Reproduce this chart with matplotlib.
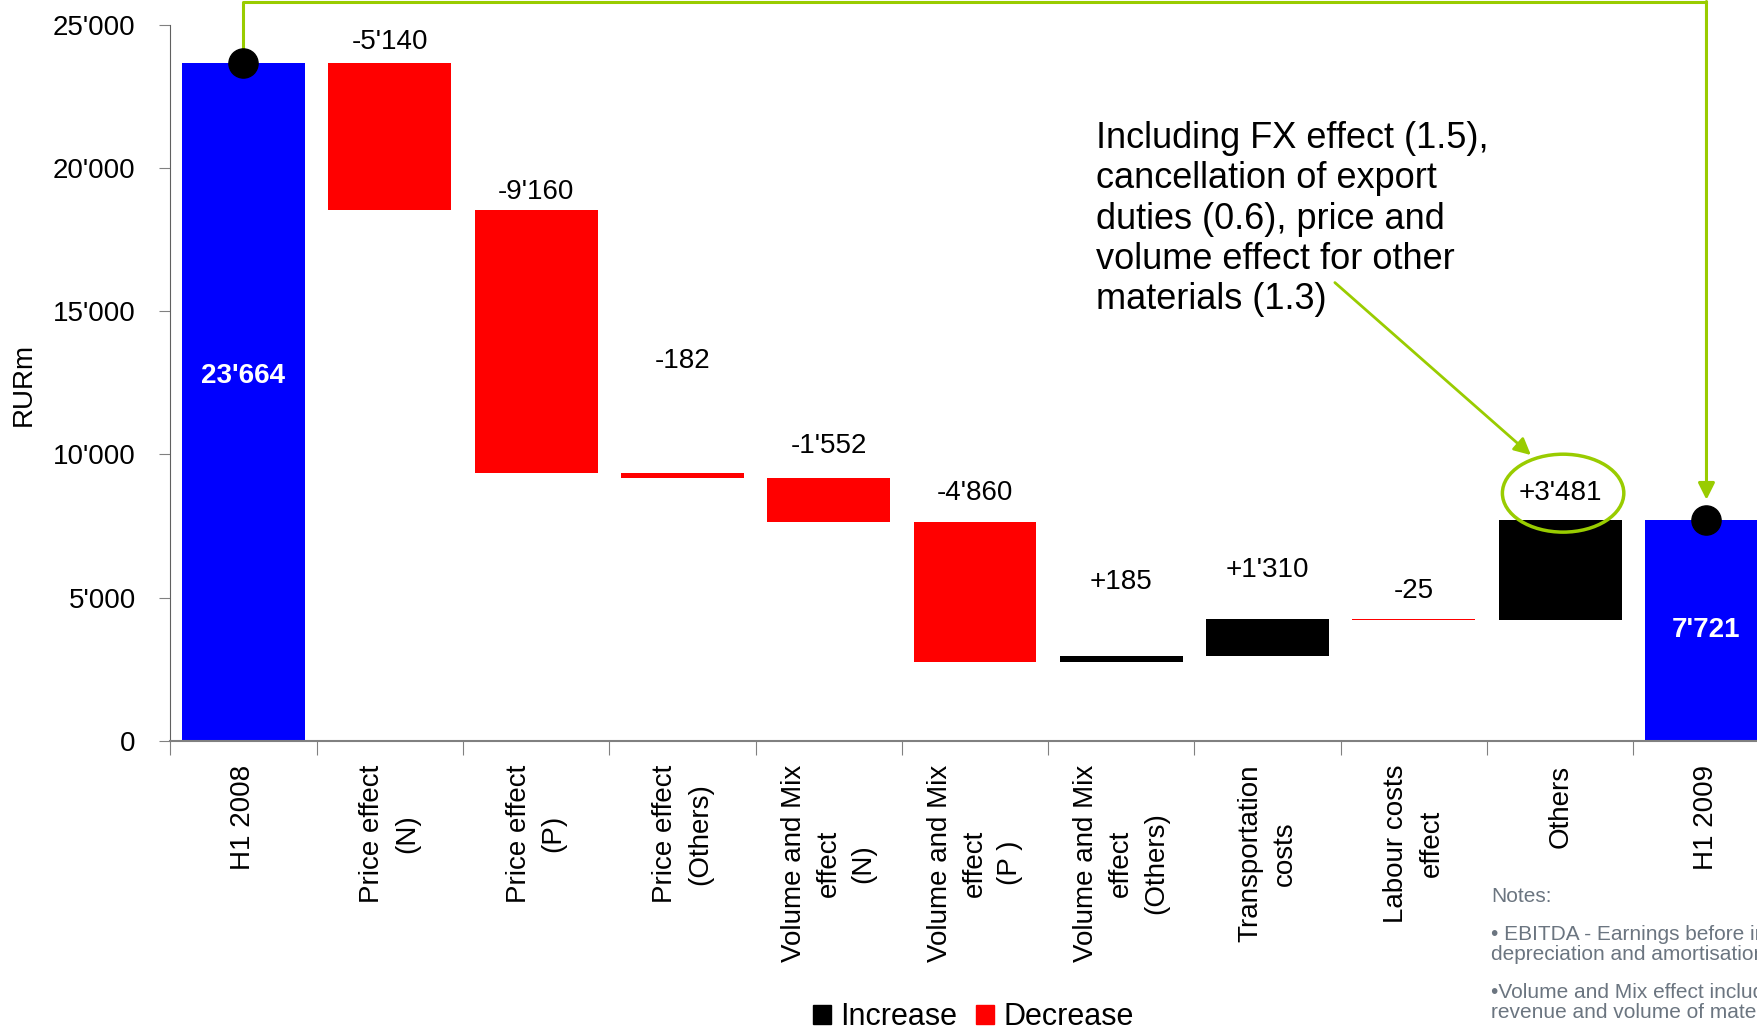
import numpy as np
import matplotlib.pyplot as plt
from matplotlib.patches import Ellipse, Patch
from matplotlib.ticker import FuncFormatter

plt.rcParams['font.family'] = ['Liberation Sans', 'DejaVu Sans']

# EBITDA bridge H1 2008 -> H1 2009, RURm
categories = ["H1 2008", "Price effect\n(N)", "Price effect\n(P)", "Price effect\n(Others)",
              "Volume and Mix\neffect\n(N)", "Volume and Mix\neffect\n(P )",
              "Volume and Mix\neffect\n(Others)", "Transportation\ncosts",
              "Labour costs\neffect", "Others", "H1 2009"]
start_value = 23664
changes = [-5140, -9160, -182, -1552, -4860, 185, 1310, -25, 3481]
end_value = 7721
value_labels = ["23'664", "-5'140", "-9'160", "-182", "-1'552", "-4'860",
                "+185", "+1'310", "-25", "+3'481", "7'721"]
# where the number labels sit (data units)
label_y = [12750, 24400, 19170, 13260, 10290, 8640, 5550, 5980, 5240, 8640, 3870]

note_lines = ["• EBITDA - Earnings before interest, taxes,",
              "depreciation and amortisation",
              "•Volume and Mix effect includes changes in",
              "revenue and volume of materials sold"]
callout = ("Including FX effect (1.5),\ncancellation of export\nduties (0.6), price and\n"
           "volume effect for other\nmaterials (1.3)")

BLUE, RED, BLACK = "#0000FF", "#FF0000", "#000000"
GREEN = "#99CC00"

# waterfall geometry
bottoms, heights, colors = [0], [start_value], [BLUE]
running = start_value
for c in changes:
    if c < 0:
        bottoms.append(running + c)
        heights.append(-c)
        colors.append(RED)
    else:
        bottoms.append(running)
        heights.append(c)
        colors.append(BLACK)
    running += c
bottoms.append(0)
heights.append(end_value)
colors.append(BLUE)

x = np.arange(len(categories))

fig = plt.figure(figsize=(17.58, 10.31), dpi=100)
ax = fig.add_axes([0.0969, 0.2813, 0.9154, 0.6947])

ax.bar(x, heights, bottom=bottoms, width=0.84, color=colors, zorder=2)

ax.set_xlim(-0.5, 10.5)
ax.set_ylim(0, 25000)
ax.set_yticks(np.arange(0, 25001, 5000))
ax.yaxis.set_major_formatter(FuncFormatter(lambda v, p: f"{int(v):,}".replace(",", "'")))

ax.set_xticks(np.arange(-0.5, 10.5, 1))
ax.set_xticklabels([])
ax.set_xticks(x, minor=True)
ax.set_xticklabels(categories, minor=True, rotation=90, fontsize=20,
                   ha="center", va="top", multialignment="center", linespacing=1.45)
ax.tick_params(axis="x", which="major", length=10, color="#808080", direction="out")
ax.tick_params(axis="x", which="minor", length=0, pad=17)
ax.tick_params(axis="y", length=8, color="#808080", labelsize=20, pad=17)

for s in ["top", "right"]:
    ax.spines[s].set_visible(False)
ax.spines["left"].set_color("#606060")
ax.spines["bottom"].set_color("#808080")
ax.spines["bottom"].set_linewidth(1.5)

for i, (lab, ly) in enumerate(zip(value_labels, label_y)):
    if i in (0, len(categories) - 1):
        ax.text(x[i], ly, lab, ha="center", va="center", fontsize=20,
                fontweight="bold", color="white", zorder=3)
    else:
        ax.text(x[i], ly, lab, ha="center", va="center", fontsize=20, zorder=3)

# green connector from H1 2008 to H1 2009
y_top = 25810
ax.plot([x[0], x[0], x[-1]], [start_value, y_top, y_top], color=GREEN, lw=2.2,
        clip_on=False, zorder=4)
ax.annotate("", xy=(x[-1], 8420), xytext=(x[-1], y_top),
            arrowprops=dict(arrowstyle="-|>", color=GREEN, lw=2.2,
                            mutation_scale=25, shrinkA=0, shrinkB=0),
            annotation_clip=False, zorder=4)
ax.plot([x[0], x[-1]], [start_value, end_value], "o", color="black", ms=21,
        clip_on=False, zorder=5)

# callout
ax.text(5.83, 21650, callout, fontsize=26, ha="left", va="top", linespacing=1.2)
ax.annotate("", xy=(8.80, 9980), xytext=(7.46, 16000),
            arrowprops=dict(arrowstyle="-|>", color=GREEN, lw=2.0,
                            mutation_scale=25, shrinkA=0, shrinkB=0))
ax.add_patch(Ellipse((9.02, 8650), 0.83, 2720, fill=False, edgecolor=GREEN,
                     lw=2.5, zorder=4))

fig.text(0.0136, 0.6275, "RURm", rotation=90, ha="center", va="center", fontsize=20)

handles = [Patch(color=BLACK, label="Increase"), Patch(color=RED, label="Decrease")]
fig.legend(handles=handles, loc="center", bbox_to_anchor=(0.5535, 0.0136), ncol=2,
           frameon=False, fontsize=22, handlelength=0.6, handleheight=0.6,
           handletextpad=0.3, columnspacing=0.6)

fig.text(0.848, 1 - 897 / 1031, "Notes:", fontsize=15, color="#6b7580", va="center")
for ny, line in zip([935, 955, 992, 1012], note_lines):
    fig.text(0.848, 1 - ny / 1031, line, fontsize=15, color="#6b7580", va="center")

fig.savefig("out.png", dpi=100)
